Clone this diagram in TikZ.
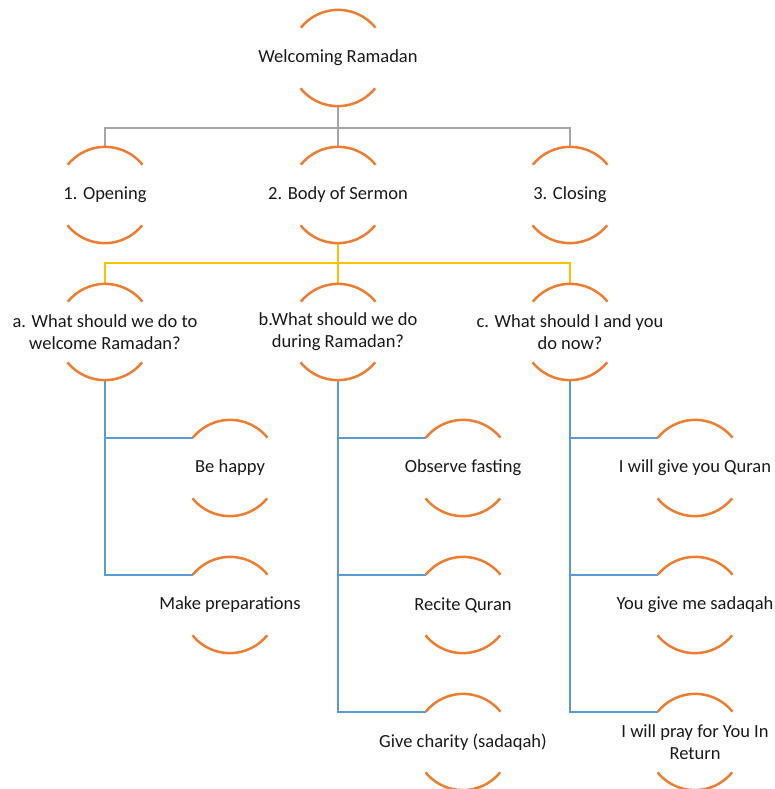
\documentclass[tikz,border=0pt]{standalone}
\usepackage{fontspec}
\setmainfont{Carlito}
\definecolor{arcorange}{HTML}{ED7D31}
\definecolor{linegray}{HTML}{A5A5A5}
\definecolor{linegold}{HTML}{FFC000}
\definecolor{lineblue}{HTML}{5B9BD5}
\tikzset{
  hub/.style={circle, minimum size=96pt, inner sep=0pt},
  txt/.style={align=center, font=\fontsize{18.5}{22}\selectfont, text=black!90},
  arcline/.style={arcorange, line width=2.5pt},
  grayline/.style={linegray, line width=2.2pt},
  goldline/.style={linegold, line width=2.2pt},
  blueline/.style={lineblue, line width=2.2pt}
}
\begin{document}
\begin{tikzpicture}[x=1pt,y=-1pt]
    \useasboundingbox (0,0) rectangle (775,789);

    % circles (only the arcs get drawn)
    \node[hub] (top) at (338,58) {};
    \node[hub] (open) at (105,195) {};
    \node[hub] (body) at (338,195) {};
    \node[hub] (close) at (570,195) {};
    \node[hub] (welc) at (105,332) {};
    \node[hub] (dur) at (338,332) {};
    \node[hub] (now) at (570,332) {};
    \node[hub] (happy) at (230,468) {};
    \node[hub] (prep) at (230,605) {};
    \node[hub] (fast) at (463,468) {};
    \node[hub] (recite) at (463,605) {};
    \node[hub] (charity) at (463,742) {};
    \node[hub] (quran) at (695,468) {};
    \node[hub] (sadaqah) at (695,605) {};
    \node[hub] (pray) at (695,742) {};

    % texts
    \node[txt] (top-t) at (top) {Welcoming Ramadan};
    \node[txt] (open-t) at (open) {1. Opening};
    \node[txt] (body-t) at (body) {2. Body of Sermon};
    \node[txt] (close-t) at (close) {3. Closing};
    \node[txt] (welc-t) at (welc) {a. What should we do to\\welcome Ramadan?};
    \node[txt] (dur-t) at (dur) {b.What should we do\\during Ramadan?};
    \node[txt] (now-t) at (now) {c. What should I and you\\do now?};
    \node[txt] (happy-t) at (happy) {Be happy};
    \node[txt] (prep-t) at (prep) {Make preparations};
    \node[txt] (fast-t) at (fast) {Observe fasting};
    \node[txt] (recite-t) at (recite) {Recite Quran};
    \node[txt] (charity-t) at (charity) {Give charity (sadaqah)};
    \node[txt] (quran-t) at (quran) {I will give you Quran};
    \node[txt] (sadaqah-t) at (sadaqah) {You give me sadaqah};
    \node[txt] (pray-t) at (pray) {I will pray for You In\\Return};

    % connectors
    \draw[grayline] (top.south) -- +(0,22) -| (open.north);
    \draw[grayline] (top.south) -- +(0,22) -| (close.north);
    \draw[grayline] (top.south) -- (body.north);

    \draw[goldline] (body.south) -- +(0,20) -| (welc.north);
    \draw[goldline] (body.south) -- +(0,20) -| (now.north);
    \draw[goldline] (body.south) -- (dur.north);

    \draw[blueline] (welc.south) |- (happy.141);
    \draw[blueline] (welc.south) |- (prep.141);
    \draw[blueline] (dur.south) |- (fast.141);
    \draw[blueline] (dur.south) |- (recite.141);
    \draw[blueline] (dur.south) |- (charity.141);
    \draw[blueline] (now.south) |- (quran.141);
    \draw[blueline] (now.south) |- (sadaqah.141);
    \draw[blueline] (now.south) |- (pray.141);

    % arcs above and below
    \foreach \n in {top,open,body,close,welc,dur,now,happy,prep,fast,recite,charity,quran,sadaqah,pray} {
        \draw[arcline] (\n.39) arc[start angle=39, end angle=141, radius=48pt];
        \draw[arcline] (\n.-141) arc[start angle=-141, end angle=-39, radius=48pt];
    }
\end{tikzpicture}
\end{document}
